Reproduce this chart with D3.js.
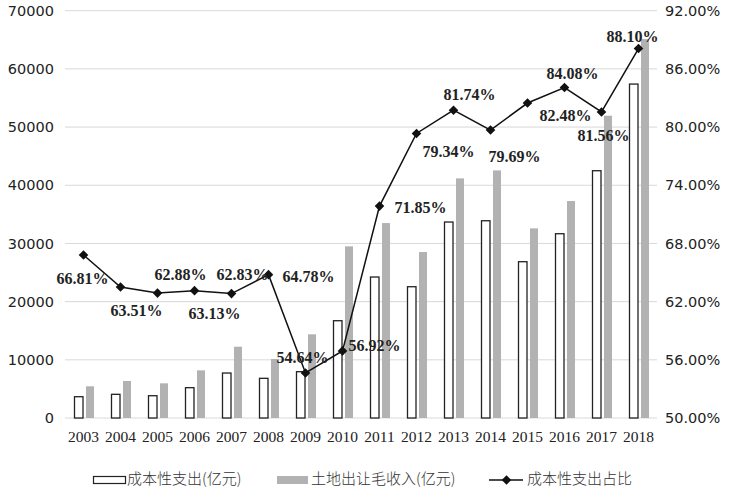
<!DOCTYPE html>
<html>
<head>
<meta charset="utf-8">
<script src="https://cdn.jsdelivr.net/npm/d3@7"></script>
<style>
html,body{margin:0;padding:0;background:#fff;}
svg{display:block;}
</style>
</head>
<body>
<svg id="chart" width="732" height="487"></svg>
<script>
const years = ["2003","2004","2005","2006","2007","2008","2009","2010","2011","2012","2013","2014","2015","2016","2017","2018"];
const costSpending = [3660,4070,3830,5210,7730,6820,7960,16720,24230,22560,33680,33900,26860,31670,42500,57390];
const landRevenue = [5450,6360,5960,8190,12250,10140,14380,29500,33500,28520,41180,42550,32590,37290,51950,65120];
const costShare = [66.81,63.51,62.88,63.13,62.83,64.78,54.64,56.92,71.85,79.34,81.74,79.69,82.48,84.08,81.56,88.10];
const leftTicks = [0,10000,20000,30000,40000,50000,60000,70000];
const rightTicks = [50,56,62,68,74,80,86,92];
const seriesNames = ["成本性支出(亿元)","土地出让毛收入(亿元)","成本性支出占比"];
// label placement relative to each point (dx, dy)
const labelOffsets = [[-1,29],[16,29],[23,-13],[20,28],[11,-14],[40,7],[-3,-10],[32,0],[41,7],[32,24],[16,-10],[24,32],[38,18],[8,-9],[2,29],[-6,-7]];

const svg = d3.select("#chart");
const L = 65, R = 657, T = 10.7, B = 418;

const x = d3.scaleBand().domain(years).range([L, R]).padding(0);
const yL = d3.scaleLinear().domain([0,70000]).range([B, T]);
const yR = d3.scaleLinear().domain([50,92]).range([B, T]);

// gridlines
svg.append("g").selectAll("line").data(leftTicks).join("line")
  .attr("x1", L).attr("x2", R)
  .attr("y1", d => yL(d)).attr("y2", d => yL(d))
  .attr("stroke", "#d9d9d9").attr("stroke-width", 1);

// left axis
const axL = svg.append("g").attr("transform", `translate(${L},0)`)
  .call(d3.axisLeft(yL).tickValues(leftTicks).tickSize(0).tickPadding(11).tickFormat(d3.format("d")));
axL.select(".domain").remove();
axL.selectAll("text").attr("font-family","DejaVu Sans").attr("font-size","14.5px").attr("fill","#222");

// right axis
const axR = svg.append("g").attr("transform", `translate(${R},0)`)
  .call(d3.axisRight(yR).tickValues(rightTicks).tickSize(0).tickPadding(8).tickFormat(d => d3.format(".2f")(d) + "%"));
axR.select(".domain").remove();
axR.selectAll("text").attr("font-family","DejaVu Sans").attr("font-size","14.5px").attr("fill","#222");

// bottom axis
const axB = svg.append("g").attr("transform", `translate(0,${B})`)
  .call(d3.axisBottom(x).tickSize(0).tickPadding(13));
axB.select(".domain").remove();
axB.selectAll("text").attr("font-family","Liberation Serif").attr("font-size","15.5px").attr("fill","#222");

const c = d => x(d) + x.bandwidth()/2;

// gray bars
svg.append("g").selectAll("rect").data(years).join("rect")
  .attr("x", d => c(d) + 2.5)
  .attr("y", (d,i) => yL(landRevenue[i]))
  .attr("width", 8)
  .attr("height", (d,i) => yL(0) - yL(landRevenue[i]))
  .attr("fill", "#b2b2b2");

// white bars
svg.append("g").selectAll("rect").data(years).join("rect")
  .attr("x", d => c(d) - 9)
  .attr("y", (d,i) => yL(costSpending[i]))
  .attr("width", 8.5)
  .attr("height", (d,i) => yL(0) - yL(costSpending[i]))
  .attr("fill", "#fff").attr("stroke", "#222").attr("stroke-width", 1.3);

// line
const line = d3.line().x((d,i) => c(years[i])).y(d => yR(d));
svg.append("path").datum(costShare).attr("d", line)
  .attr("fill","none").attr("stroke","#111").attr("stroke-width",1.5);

const diamond = d3.symbol().type(d3.symbolSquare).size(46);
svg.append("g").selectAll("path").data(costShare).join("path")
  .attr("d", diamond)
  .attr("transform", (d,i) => `translate(${c(years[i])},${yR(d)}) rotate(45)`)
  .attr("fill","#111");

// data labels
svg.append("g").selectAll("text").data(costShare).join("text")
  .attr("x", (d,i) => c(years[i]) + labelOffsets[i][0])
  .attr("y", (d,i) => yR(d) + labelOffsets[i][1])
  .attr("text-anchor","middle")
  .attr("font-family","Liberation Serif").attr("font-weight","bold")
  .attr("font-size","16px").attr("fill","#222")
  .text(d => d3.format(".2f")(d) + "%");

// legend
const lg = svg.append("g").attr("font-family","Noto Sans CJK SC").attr("font-size","15px").attr("fill","#333");
lg.append("rect").attr("x",93.5).attr("y",476.5).attr("width",32).attr("height",7)
  .attr("fill","#fff").attr("stroke","#222").attr("stroke-width",1.2);
lg.append("text").attr("x",127).attr("y",483.5).text(seriesNames[0]).attr("font-weight",300);
lg.append("rect").attr("x",277).attr("y",476).attr("width",31).attr("height",8).attr("fill","#b2b2b2");
lg.append("text").attr("x",311).attr("y",483.5).text(seriesNames[1]).attr("font-weight",300);
lg.append("line").attr("x1",489).attr("x2",523).attr("y1",480).attr("y2",480).attr("stroke","#111").attr("stroke-width",1.5);
lg.append("path").attr("d",diamond).attr("transform","translate(506.5,480) rotate(45)").attr("fill","#111");
lg.append("text").attr("x",527).attr("y",483.5).text(seriesNames[2]).attr("font-weight",300);
</script>
</body>
</html>
